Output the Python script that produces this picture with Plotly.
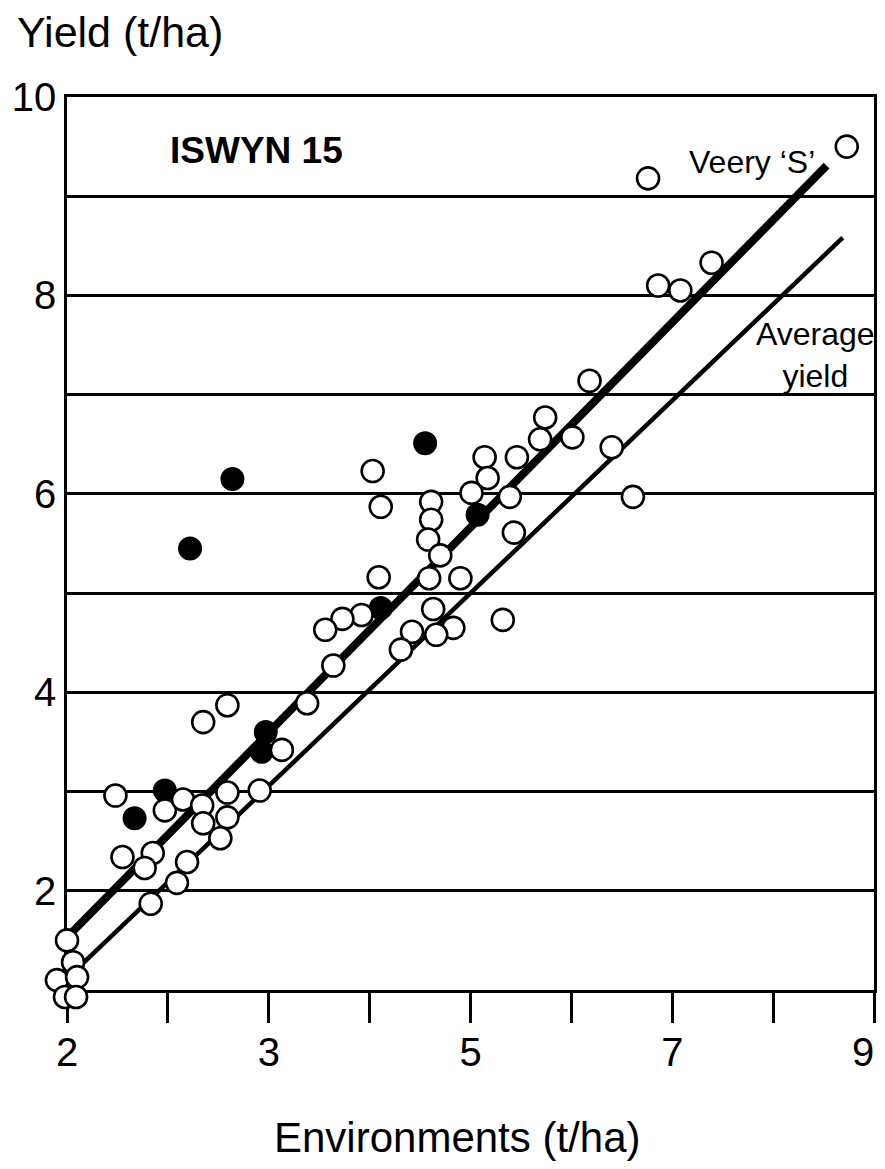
import plotly.graph_objects as go

# ---- data ----
open_x = [8.73, 6.76, 7.39, 6.86, 7.08, 6.18, 6.40, 6.61, 4.03, 4.11, 5.74, 5.69, 6.01,
          5.14, 5.46, 5.17, 5.01, 5.39, 4.61, 4.61, 4.58, 4.70, 5.43, 4.09, 4.59, 4.90,
          3.92, 3.73, 3.56, 4.63, 5.32, 4.83, 4.66, 4.42, 4.31, 3.64, 3.38, 2.59, 2.35,
          3.13, 1.48, 1.97, 2.15, 2.34, 2.35, 2.59, 2.59, 2.52, 2.91, 1.55, 1.85, 1.77,
          2.19, 2.09, 1.83, 1.00, 1.06, 0.90, 1.10, 0.98, 1.09]
open_y = [9.50, 9.18, 8.33, 8.10, 8.05, 7.14, 6.47, 5.97, 6.23, 5.87, 6.77, 6.55, 6.57,
          6.37, 6.37, 6.16, 6.01, 5.97, 5.92, 5.74, 5.54, 5.38, 5.61, 5.16, 5.15, 5.15,
          4.78, 4.74, 4.63, 4.84, 4.73, 4.65, 4.58, 4.61, 4.43, 4.27, 3.89, 3.87, 3.70,
          3.42, 2.96, 2.81, 2.92, 2.86, 2.68, 2.99, 2.74, 2.53, 3.01, 2.34, 2.38, 2.23,
          2.29, 2.08, 1.87, 1.50, 1.28, 1.10, 1.13, 0.93, 0.93]

filled_x = [2.64, 2.22, 4.55, 5.07, 4.11, 2.97, 2.93, 1.97, 1.67]
filled_y = [6.15, 5.45, 6.51, 5.79, 4.85, 3.60, 3.40, 3.01, 2.73]

# regression lines: yield = intercept + slope * environment
veery_intercept, veery_slope = 0.497, 1.033
veery_x_range = [1.05, 8.53]
avg_intercept, avg_slope = 0.144, 0.971
avg_x_range = [1.10, 8.69]

x_range = [1, 9]
y_range = [1, 10]
x_tick_vals = [1, 2, 3, 4, 5, 6, 7, 8, 9]
x_tick_text = ["2", "", "3", "", "5", "", "7", "", ""]
last_x_label, last_x_pos = "9", 9   # drawn as an annotation so it stays inside the page
y_tick_vals = [1, 2, 3, 4, 5, 6, 7, 8, 9, 10]
y_tick_text = ["", "2", "", "4", "", "6", "", "8", "", "10"]

FONT = "Liberation Sans, Arial, Helvetica, sans-serif"

veery_y = [veery_intercept + veery_slope * v for v in veery_x_range]
avg_y = [avg_intercept + avg_slope * v for v in avg_x_range]

# page body has an 8px margin: compensate so the figure lands where the reference is
OFF = 8
W, H = 885 - OFF, 1169 - OFF
frame_l, frame_r, frame_t, frame_b = 67 - OFF, 874 - OFF, 97 - OFF, 990 - OFF
EXT = 30  # extra room left/below the frame so markers past the axes still draw
L = frame_l - EXT
R = W - frame_r
T = frame_t
B = H - frame_b - EXT
pw, ph = W - L - R, H - T - B
frame_w, frame_h = frame_r - frame_l, frame_b - frame_t
sx = frame_w / (x_range[1] - x_range[0])
sy = frame_h / (y_range[1] - y_range[0])
x2_range = [x_range[0] - EXT / sx, x_range[1]]
y2_range = [y_range[0] - EXT / sy, y_range[1]]


def px(x):
    return (x - OFF - L) / pw


def py(y):
    return (H - B - (y - OFF)) / ph


fig = go.Figure()
fig.add_trace(go.Scatter(x=avg_x_range, y=avg_y, mode="lines",
                         line=dict(color="black", width=4.5), showlegend=False))
fig.add_trace(go.Scatter(x=veery_x_range, y=veery_y, mode="lines",
                         line=dict(color="black", width=8), showlegend=False))
fig.add_trace(go.Scatter(x=filled_x, y=filled_y, mode="markers", cliponaxis=False,
                         xaxis="x2", yaxis="y2",
                         marker=dict(size=22, color="black",
                                     line=dict(color="black", width=2)),
                         showlegend=False))
fig.add_trace(go.Scatter(x=open_x, y=open_y, mode="markers", cliponaxis=False,
                         xaxis="x2", yaxis="y2",
                         marker=dict(size=22, color="white",
                                     line=dict(color="black", width=2.6)),
                         showlegend=False))

fig.update_layout(
    width=W, height=H,
    margin=dict(l=L, r=R, t=T, b=B, pad=0),
    paper_bgcolor="white", plot_bgcolor="rgba(0,0,0,0)",
    font=dict(family=FONT, color="black"),
    xaxis=dict(range=x_range, domain=[EXT / pw, 1], anchor="y",
               tickmode="array", tickvals=x_tick_vals, ticktext=x_tick_text,
               ticks="outside", ticklen=30, tickwidth=2.5, tickcolor="black",
               showline=True, linecolor="black", linewidth=2.5, mirror=True,
               showgrid=False, zeroline=False, automargin=False,
               ticklabeloverflow="allow", ticklabelstandoff=-5,
               tickfont=dict(size=40, family=FONT)),
    yaxis=dict(range=y_range, domain=[EXT / ph, 1], anchor="x",
               tickmode="array", tickvals=y_tick_vals, ticktext=y_tick_text,
               ticks="", showline=True, linecolor="black", linewidth=2.5, mirror=True,
               showgrid=True, gridcolor="black", gridwidth=2.5, zeroline=False,
               automargin=False, ticklabeloverflow="allow",
               tickfont=dict(size=40, family=FONT)),
    xaxis2=dict(range=x2_range, domain=[0, 1], anchor="y2",
                visible=False, showgrid=False, zeroline=False),
    yaxis2=dict(range=y2_range, domain=[0, 1], anchor="x2",
                visible=False, showgrid=False, zeroline=False),
    annotations=[
        dict(text="Yield (t/ha)", xref="paper", yref="paper", x=px(15), y=py(32),
             xanchor="left", yanchor="middle", showarrow=False,
             font=dict(size=43, family=FONT)),
        dict(text="Environments (t/ha)", xref="paper", yref="paper", x=px(457), y=py(1137),
             xanchor="center", yanchor="middle", showarrow=False,
             font=dict(size=42, family=FONT)),
        dict(text=last_x_label, xref="x", yref="paper", x=last_x_pos, y=py(1052),
             xanchor="center", yanchor="middle", xshift=-11, showarrow=False,
             font=dict(size=40, family=FONT)),
        dict(text="<b>ISWYN 15</b>", xref="x", yref="y", x=2.88, y=9.46,
             xanchor="center", yanchor="middle", showarrow=False,
             font=dict(size=37, family=FONT)),
        dict(text="Veery ‘S’", xref="x", yref="y", x=7.79, y=9.34,
             xanchor="center", yanchor="middle", showarrow=False,
             font=dict(size=32, family=FONT)),
        dict(text="Average<br>yield", xref="x", yref="y", x=8.42, y=7.40,
             xanchor="center", yanchor="middle", showarrow=False,
             font=dict(size=32, family=FONT)),
    ],
)

fig.write_html("out.html")
